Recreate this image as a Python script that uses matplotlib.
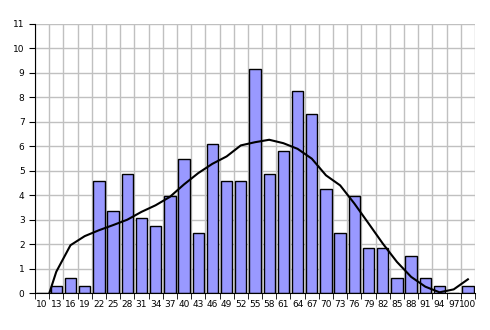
import numpy as np
import matplotlib.pyplot as plt

categories = [str(v) for v in range(10, 101, 3)]
values = [0, 0.30, 0.61, 0.30, 4.57, 3.35, 4.88, 3.05, 2.74, 3.96, 5.49, 2.44,
          6.10, 4.57, 4.57, 9.15, 4.88, 5.79, 8.23, 7.32, 4.27, 2.44, 3.96,
          1.83, 1.83, 0.61, 1.52, 0.61, 0.30, 0, 0.30]
trend = [-0.9, 0.88, 1.96, 2.33, 2.57, 2.78, 3.0, 3.32, 3.59, 3.93, 4.44, 4.9,
         5.28, 5.58, 6.03, 6.16, 6.26, 6.12, 5.89, 5.49, 4.81, 4.40, 3.66,
         2.85, 2.03, 1.28, 0.67, 0.27, 0.04, 0.16, 0.57]

x = np.arange(len(categories))

fig = plt.figure(figsize=(4.9, 3.3), dpi=100)
ax = fig.add_axes([35/490, 1 - 293.3/330, 440/490, 269.8/330])

ax.bar(x, values, width=0.8, color='#9999ff', edgecolor='black', linewidth=1, zorder=2)
ax.plot(x, trend, color='black', linewidth=1.5, zorder=3)

ax.set_xlim(-0.5, len(categories) - 0.5)
ax.set_ylim(0, 11)
ax.set_xticks(x)
ax.set_xticklabels(categories)
ax.set_xticks(np.arange(-0.5, len(categories)), minor=True)
ax.set_yticks(range(0, 12))
ax.tick_params(axis='x', which='major', length=0, labelsize=6.5, pad=5)
ax.tick_params(axis='x', which='minor', length=4, direction='out')
ax.tick_params(axis='y', length=4, labelsize=6.5)

ax.grid(True, axis='x', which='minor', color='#c0c0c0', linewidth=1, zorder=0)
ax.grid(True, axis='y', which='major', color='#c0c0c0', linewidth=1, zorder=0)
ax.set_axisbelow(True)
for s in ['top', 'right']:
    ax.spines[s].set_visible(False)

plt.savefig('out.png')
